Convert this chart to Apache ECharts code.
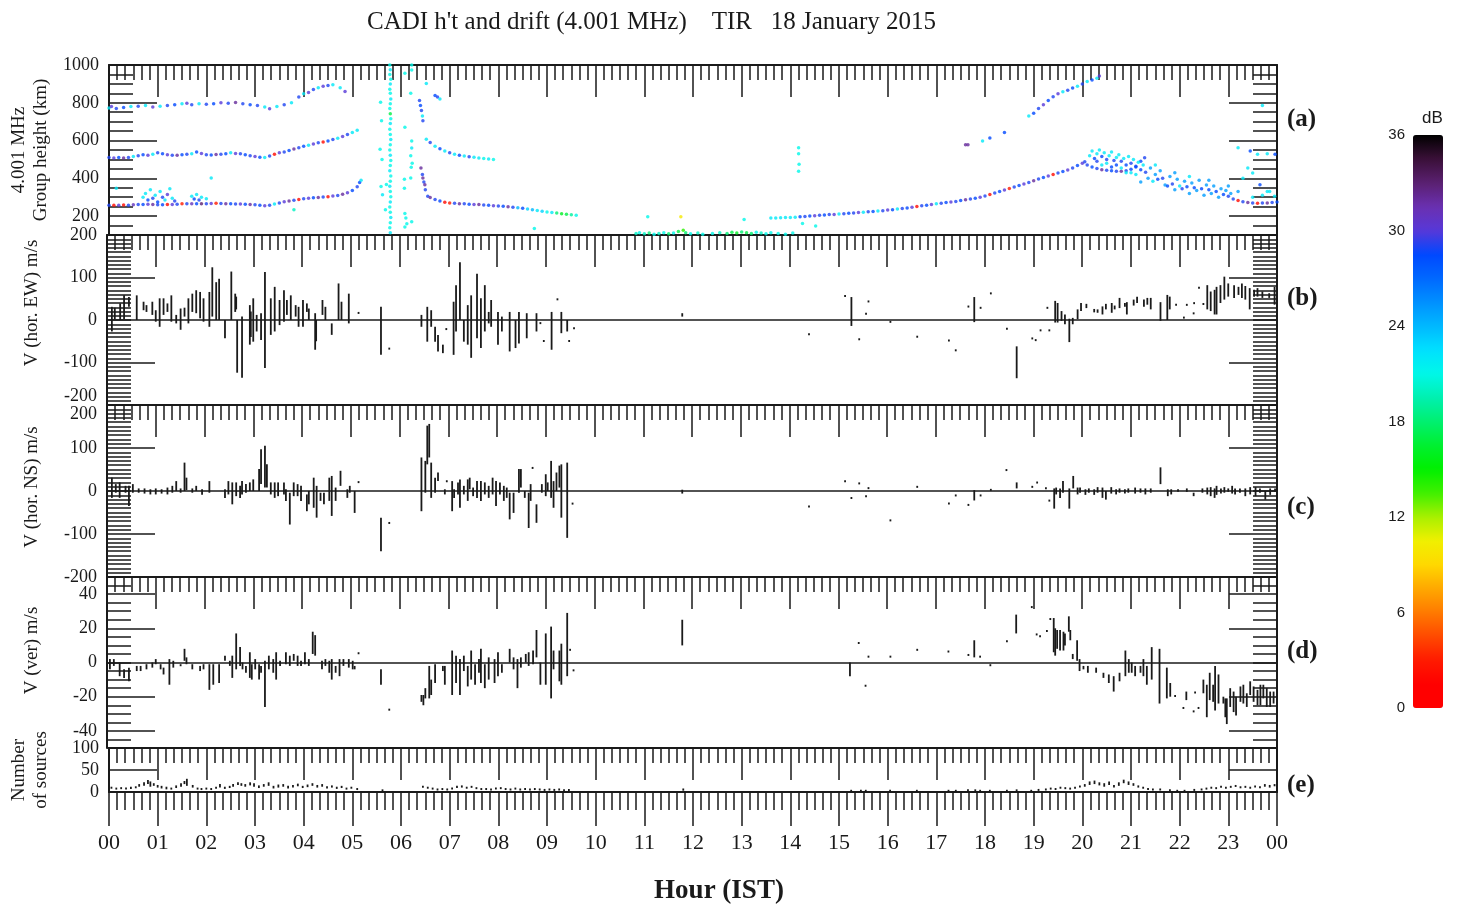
<!DOCTYPE html>
<html>
<head>
<meta charset="utf-8">
<title>CADI h't and drift</title>
<script src="https://cdn.jsdelivr.net/npm/echarts@6.0.0/dist/echarts.min.js"></script>
<style>
  html, body { margin: 0; padding: 0; background: #fff; }
  #chart { width: 1460px; height: 907px; }
</style>
</head>
<body>
<div id="chart"></div>
<script>
const SERIF = 'Liberation Serif'
const SANS = 'Liberation Sans'
const INK = '#1a1a1a'

const hourLabels = ['00', '01', '02', '03', '04', '05', '06', '07', '08', '09', '10', '11', '12',
  '13', '14', '15', '16', '17', '18', '19', '20', '21', '22', '23', '00']
const heightLabels = [200, 400, 600, 800, 1000]
const ewLabels = [-200, -100, 0, 100, 200]
const nsLabels = [-200, -100, 0, 100, 200]
const verLabels = [-40, -20, 0, 20, 40]
const sourceLabels = [0, 50, 100]

// (a) echoes: [hour, group height km, amplitude dB]
const lowTraceNight = [[0.0,258,29],[0.1,258,2],[0.2,258,30],[0.3,259,2],[0.4,258,29],[0.5,260,31],[0.6,262,29],[0.7,262,28.5],[0.8,263,30],[0.9,262,32],[1.0,260,29],[1.1,260,28.5],[1.2,261,2],[1.3,262,30],[1.4,263,29],[1.5,265,3],[1.6,266,29],[1.7,265,31],[1.8,265,28.5],[1.9,266,33],[2.0,266,29],[2.1,267,30],[2.2,268,3],[2.3,267,29],[2.4,266,32],[2.5,265,28.5],[2.6,264,29],[2.7,264,30],[2.8,263,28.5],[2.9,262,32],[3.0,260,29],[3.1,257,28.5],[3.2,255,30],[3.3,258,29],[3.4,264,22],[3.5,270,29],[3.6,276,30],[3.7,280,32],[3.8,284,29],[3.9,288,2],[4.0,292,29],[4.1,295,30],[4.2,297,28.5],[4.3,299,32],[4.4,301,29],[4.5,303,2],[4.6,306,30],[4.7,309,29],[4.8,316,32],[4.9,324,30],[5.0,336,28.5],[5.1,356,29],[5.15,378,28.5],[5.18,390,22]]
const midTraceNight = [[0.0,510,29],[0.1,508,30],[0.2,510,28.5],[0.3,508,32],[0.4,510,29],[0.5,515,22],[0.6,520,29],[0.7,525,28.5],[0.8,522,30],[0.9,528,22],[1.0,535,29],[1.1,530,28.5],[1.2,525,30],[1.3,522,29],[1.4,522,32],[1.5,525,28.5],[1.6,528,29],[1.7,530,22],[1.8,540,28.5],[1.9,532,30],[2.0,525,29],[2.1,524,28.5],[2.2,526,32],[2.3,528,29],[2.4,530,28.5],[2.5,535,22],[2.6,532,30],[2.7,530,29],[2.8,525,28.5],[2.9,520,29],[3.0,515,30],[3.1,512,28.5],[3.2,510,22],[3.3,518,29],[3.4,528,2],[3.5,535,30],[3.6,540,29],[3.7,548,28.5],[3.8,555,32],[3.9,562,29],[4.0,570,28.5],[4.1,575,22],[4.2,582,30],[4.3,588,29],[4.4,592,2],[4.5,598,28.5],[4.6,605,29],[4.7,612,22],[4.8,622,30],[4.9,632,29],[5.0,642,22],[5.1,655,22]]
const topTraceNight = [[0.0,772,22],[0.05,780,30],[0.15,770,29],[0.3,775,28.5],[0.45,780,22],[0.6,782,29],[0.75,785,22],[0.9,778,30],[1.05,782,22],[1.2,785,29],[1.35,790,28.5],[1.5,795,22],[1.6,798,30],[1.7,790,29],[1.85,795,22],[2.0,792,29],[2.15,795,28.5],[2.3,800,30],[2.45,798,29],[2.6,802,32],[2.75,795,29],[2.9,790,28.5],[3.05,785,29],[3.2,778,22],[3.3,768,30],[3.45,780,22],[3.6,790,29],[3.75,800,22],[3.9,830,29],[4.0,848,22],[4.1,855,30],[4.2,870,29],[4.3,880,22],[4.4,888,30],[4.5,892,29],[4.6,895,22],[4.75,880,22],[4.85,860,30]]
const scatterNight = [[0.15,347,22],[0.7,300,22],[0.75,320,22],[0.8,285,28.5],[0.85,340,22],[0.9,295,29],[0.95,310,22],[1.0,275,28.5],[1.05,330,22],[1.1,300,29],[1.15,285,22],[1.2,315,30],[1.25,345,22],[1.3,295,22],[1.35,280,29],[1.7,305,22],[1.75,290,28.5],[1.8,315,22],[1.85,285,29],[1.9,300,22],[2.0,292,22],[2.1,402,22],[3.8,234,20]]
const spreadF = [[5.77,1000,21],[5.78,975,22],[5.77,950,21],[5.79,925,21],[5.78,900,22],[5.77,872,21],[5.78,850,21],[5.79,820,22],[5.78,795,21],[5.77,770,21],[5.78,742,17],[5.79,715,21],[5.78,690,22],[5.77,660,21],[5.78,632,21],[5.79,605,22],[5.78,578,21],[5.77,550,21],[5.78,522,22],[5.79,495,21],[5.78,468,21],[5.77,440,22],[5.79,412,21],[5.78,385,21],[5.77,358,22],[5.78,330,21],[5.79,302,21],[5.78,275,22],[5.77,248,21],[5.78,220,21],[5.79,192,22],[5.78,165,21],[5.77,138,21],[5.78,112,22],[5.58,803,21],[5.6,705,21],[5.57,554,21],[5.61,500,21],[5.59,357,21],[5.62,313,22],[5.7,368,21],[5.68,234,21],[6.08,956,21],[6.22,1000,21],[6.22,973,21],[6.2,850,21],[6.08,670,21],[6.22,598,21],[6.22,560,22],[6.2,520,21],[6.23,480,21],[6.21,459,21],[6.07,395,21],[6.07,348,21],[6.2,402,21],[6.08,214,21],[6.1,190,21],[6.12,160,21],[6.08,143,21],[6.22,170,21]]
const steepTraceDawn = [[6.38,812,29],[6.4,785,28.5],[6.42,759,29],[6.44,730,22],[6.45,705,29],[6.41,455,32],[6.44,420,29],[6.45,402,32],[6.47,380,29],[6.49,366,32],[6.5,340,29],[6.52,902,22],[6.7,838,28.5],[6.75,830,29],[6.8,820,22]]
const lowTraceMorning = [[6.55,305,29],[6.6,298,32],[6.7,288,29],[6.8,280,28.5],[6.9,274,2],[7.0,270,3],[7.1,268,29],[7.2,266,32],[7.3,265,29],[7.4,263,28.5],[7.5,262,30],[7.6,261,32],[7.7,259,29],[7.8,257,28.5],[7.9,255,30],[8.0,254,29],[8.1,252,28.5],[8.2,250,32],[8.3,247,29],[8.4,244,24],[8.5,241,28.5],[8.6,238,23],[8.7,234,24],[8.8,230,22],[8.9,226,23],[9.0,222,21],[9.1,219,22],[9.2,216,18],[9.3,213,16],[9.4,210,17],[9.5,207,19],[9.6,204,21]]
const midTraceMorning = [[6.52,607,22],[6.6,590,29],[6.7,570,22],[6.8,557,28.5],[6.9,545,22],[7.0,536,29],[7.1,528,22],[7.2,522,28.5],[7.3,518,22],[7.4,514,29],[7.5,511,22],[7.6,508,22],[7.7,505,21],[7.8,502,22],[7.9,500,21]]
const bottomDots = [[8.74,134,21],[10.83,108,20],[10.9,112,21],[11.0,106,20],[11.07,196,21],[11.1,110,18],[11.2,104,21],[11.3,108,20],[11.4,112,21],[11.5,106,18],[11.6,110,21],[11.7,118,17],[11.75,196,10],[11.8,125,14],[11.85,112,18],[11.95,106,21],[12.1,110,20],[12.2,104,21],[12.4,108,21],[12.55,112,20],[12.7,108,18],[12.8,114,17],[12.9,110,16],[13.0,116,18],[13.05,182,21],[13.1,112,17],[13.2,108,18],[13.3,114,21],[13.4,110,20],[13.5,106,21],[13.6,112,21],[13.75,108,21],[13.9,104,21],[14.05,110,21],[14.17,562,21],[14.17,530,21],[14.18,475,21],[14.17,437,21],[14.25,161,21],[14.52,148,21]]
const lowTraceEvening = [[13.6,190,22],[13.7,190,22],[13.8,191,22],[13.9,192,22],[14.0,193,22],[14.1,194,22],[14.2,196,28.5],[14.3,198,29],[14.4,200,28.5],[14.5,202,30],[14.6,204,29],[14.7,206,28.5],[14.8,208,29],[14.9,209,30],[15.0,211,22],[15.1,213,29],[15.2,215,28.5],[15.3,217,29],[15.4,219,30],[15.5,221,22],[15.6,223,29],[15.7,225,28.5],[15.8,227,22],[15.9,229,29],[16.0,232,30],[16.1,234,28.5],[16.2,237,22],[16.3,240,29],[16.4,243,28.5],[16.5,247,30],[16.6,251,2],[16.7,255,29],[16.8,258,28.5],[16.9,262,30],[17.0,265,22],[17.1,268,29],[17.2,272,28.5],[17.3,275,30],[17.4,278,29],[17.5,282,28.5],[17.6,286,32],[17.7,290,29],[17.8,295,28.5],[17.9,300,30],[18.0,307,29],[18.1,314,2],[18.2,322,29],[18.3,330,28.5],[18.4,338,30],[18.5,346,3],[18.6,354,29],[18.7,362,28.5],[18.8,370,30],[18.9,378,29],[19.0,387,32],[19.1,396,29],[19.2,404,28.5],[19.3,412,30],[19.4,420,2],[19.5,428,29],[19.6,436,28.5],[19.7,444,30],[19.8,455,29],[19.9,468,28.5],[20.0,480,30],[20.05,488,29]]
const upperTraceEvening = [[17.6,578,32],[17.65,578,32],[17.95,598,22],[18.1,614,28.5],[18.4,643,28.5],[18.9,730,22],[19.0,745,28.5],[19.1,770,29],[19.2,790,30],[19.3,812,28.5],[19.4,832,29],[19.5,848,30],[19.6,858,22],[19.7,866,29],[19.8,878,28.5],[19.9,888,22],[20.0,900,29],[20.1,912,22],[20.2,920,28.5],[20.3,930,22],[20.35,942,30]]
const blobEvening = [[20.1,470,29],[20.2,460,28.5],[20.3,452,29],[20.4,446,32],[20.5,443,29],[20.6,440,28.5],[20.7,438,29],[20.8,437,32],[20.9,440,29],[21.0,448,28.5],[21.1,464,29],[21.2,490,28.5],[21.28,509,29],[20.15,520,22],[20.2,545,22],[20.25,505,28.5],[20.3,530,22],[20.3,490,29],[20.35,550,22],[20.4,515,28.5],[20.4,470,22],[20.45,535,22],[20.5,500,29],[20.5,480,22],[20.55,520,22],[20.6,460,28.5],[20.6,540,22],[20.65,495,29],[20.7,510,22],[20.7,470,28.5],[20.75,525,22],[20.8,455,22],[20.8,490,29],[20.85,505,22],[20.9,470,28.5],[20.9,430,22],[20.95,515,22],[21.0,480,29],[21.0,430,22],[21.05,500,22],[21.1,460,28.5],[21.1,420,22],[21.15,485,22],[21.2,445,28.5],[21.25,470,22]]
const decayNight = [[21.2,380,25],[21.3,432,29],[21.35,400,25],[21.4,455,25],[21.45,385,22],[21.5,420,25],[21.5,470,22],[21.55,395,28.5],[21.6,440,25],[21.65,400,29],[21.7,365,25],[21.75,360,28.5],[21.8,410,25],[21.85,370,29],[21.9,340,25],[21.9,430,25],[21.95,395,25],[22.0,360,22],[22.05,345,29],[22.1,385,25],[22.15,355,28.5],[22.2,320,25],[22.2,410,22],[22.25,375,25],[22.3,350,28.5],[22.35,335,25],[22.4,390,25],[22.45,345,28.5],[22.5,310,25],[22.55,365,25],[22.6,340,28.5],[22.6,390,25],[22.65,320,25],[22.7,360,25],[22.75,330,28.5],[22.8,300,25],[22.85,345,25],[22.9,315,28.5],[22.95,335,25],[23.0,305,29],[23.0,360,25],[23.05,320,25],[23.1,290,29],[23.2,282,2],[23.2,330,25],[23.3,276,29],[23.3,400,22],[23.4,272,32],[23.5,270,29],[23.6,268,2],[23.7,270,29],[23.8,270,32],[23.9,272,29],[24.0,275,28.5],[23.5,300,22],[23.7,310,22],[23.85,330,22],[23.95,305,22],[23.2,562,22],[23.45,545,28.5],[23.6,527,22],[23.8,530,22],[23.96,527,28.5],[23.4,455,22],[23.5,428,22],[23.65,366,28.5],[23.8,330,22],[23.7,786,22]]

// (b)-(e) drift estimates: [hour, low, high]
const ewDrift = [[0.10,-27,31],[0.16,2,29],[0.27,0,39],[0.35,2,58],[0.45,31,54],[0.61,0,58],[0.75,23,43],[0.81,19,35],[0.93,12,43],[1.00,-4,23],[1.08,-16,51],[1.16,12,51],[1.24,19,39],[1.32,-4,58],[1.42,-8,12],[1.51,-23,27],[1.59,8,29],[1.67,-8,51],[1.75,19,62],[1.83,16,70],[1.91,4,66],[1.98,-4,51],[2.10,-16,66],[2.16,8,124],[2.24,0,89],[2.30,0,97],[2.42,-43,0],[2.55,0,114],[2.63,19,62],[2.65,25,55],[2.67,-124,0],[2.77,-136,8],[2.93,-58,35],[2.95,-40,20],[3.00,-51,51],[3.07,-27,12],[3.16,-47,16],[3.24,-113,113],[3.36,-35,51],[3.44,-27,78],[3.54,-12,47],[3.63,-4,70],[3.69,12,47],[3.77,0,58],[3.87,8,35],[3.93,-16,31],[4.02,-16,47],[4.10,19,39],[4.14,0,27],[4.27,-70,16],[4.29,-50,0],[4.42,12,47],[4.48,0,31],[4.61,-35,-8],[4.75,0,86],[4.81,0,43],[4.96,-8,62],[5.16,19,19],[5.62,-82,31],[5.79,-65,-65],[6.45,-16,12],[6.57,-51,31],[6.65,-16,23],[6.73,-51,-16],[6.79,-74,-35],[6.89,-78,-58],[6.96,-19,-19],[7.11,-82,43],[7.16,-27,82],[7.24,0,136],[7.32,-51,0],[7.40,-58,35],[7.47,-89,58],[7.59,-43,109],[7.67,-66,51],[7.75,-27,82],[7.83,-8,19],[7.88,-16,47],[8.02,-58,19],[8.10,-27,8],[8.26,-74,19],[8.38,-66,0],[8.45,-55,19],[8.61,-43,16],[8.81,-27,16],[8.89,-5,-5],[8.96,-47,-47],[9.12,-70,19],[9.24,51,51],[9.32,-31,19],[9.44,-27,0],[9.48,-47,-47],[9.58,-17,-17],[11.80,8,16],[14.40,-31,-31],[15.14,59,59],[15.27,-14,54],[15.43,-43,-43],[15.57,17,17],[15.62,46,46],[16.07,-2,-2],[16.62,-37,-37],[17.27,-46,-46],[17.41,-69,-69],[17.67,34,34],[17.79,-5,54],[17.92,31,31],[18.13,65,65],[18.46,-18,-18],[18.66,-137,-62],[18.98,-41,-41],[19.05,-45,-45],[19.15,-22,-22],[19.29,31,31],[19.33,-22,-22],[19.45,-6,45],[19.50,-6,40],[19.58,-2,21],[19.65,-10,13],[19.74,-52,3],[19.81,-10,5],[19.91,2,25],[19.98,21,40],[20.09,28,38],[20.25,18,26],[20.32,17,25],[20.42,13,32],[20.49,25,38],[20.61,17,40],[20.67,25,34],[20.77,28,52],[20.88,31,40],[20.92,13,42],[21.06,34,48],[21.13,40,55],[21.27,31,48],[21.34,36,52],[21.41,25,52],[21.61,-2,42],[21.75,0,59],[21.80,25,55],[21.93,38,38],[22.09,8,8],[22.15,38,38],[22.29,18,18],[22.30,42,42],[22.40,78,78],[22.49,40,40],[22.57,25,82],[22.64,21,67],[22.72,13,71],[22.76,13,78],[22.84,40,82],[22.92,48,102],[23.00,55,86],[23.12,52,82],[23.21,59,78],[23.28,52,86],[23.35,48,80],[23.44,25,75],[23.53,55,71],[23.60,55,75],[23.70,52,67],[23.84,52,63],[23.95,36,78]]
const nsDrift = [[0.10,-16,31],[0.18,-4,16],[0.26,-16,20],[0.38,-4,12],[0.45,-35,12],[0.53,-4,16],[0.65,-4,6],[0.77,-6,6],[0.89,-8,4],[1.00,-8,6],[1.12,-6,4],[1.24,-8,8],[1.34,-4,12],[1.42,0,23],[1.51,-4,6],[1.59,0,66],[1.63,2,31],[1.75,-4,6],[1.83,0,12],[1.95,-9,4],[2.10,-4,23],[2.42,-16,4],[2.49,-8,23],[2.57,-31,20],[2.65,-12,20],[2.73,-16,12],[2.77,-8,23],[2.85,-4,16],[2.93,0,20],[3.00,0,27],[3.12,0,51],[3.16,16,97],[3.24,8,105],[3.28,8,62],[3.36,-8,20],[3.44,-16,20],[3.51,-12,20],[3.63,-8,20],[3.67,-23,4],[3.75,-78,-4],[3.83,-12,20],[3.91,-12,16],[3.98,-23,12],[4.10,-47,-8],[4.14,-31,0],[4.24,-39,31],[4.30,-62,12],[4.38,-23,-4],[4.45,-31,-4],[4.56,-23,31],[4.61,-58,35],[4.69,-23,8],[4.79,12,47],[4.93,-16,4],[4.98,-4,12],[5.08,-51,0],[5.16,23,23],[5.62,-140,-62],[5.79,-72,-72],[6.45,-47,78],[6.53,-4,70],[6.57,62,152],[6.61,78,156],[6.65,-16,66],[6.73,-4,31],[6.79,23,43],[6.93,-8,4],[6.97,25,25],[7.08,-47,23],[7.12,-16,4],[7.20,-8,20],[7.24,-39,27],[7.32,-8,12],[7.40,-23,27],[7.44,4,31],[7.51,-12,8],[7.59,-16,23],[7.67,-23,23],[7.75,-8,20],[7.83,-16,12],[7.91,-8,31],[7.98,-35,23],[8.06,-8,20],[8.14,-23,12],[8.20,-16,8],[8.26,-66,-4],[8.34,-51,-4],[8.45,-4,51],[8.49,8,51],[8.57,-16,0],[8.65,-86,-4],[8.69,-23,16],[8.73,56,56],[8.81,-74,-31],[8.92,-4,16],[9.00,-12,39],[9.04,0,20],[9.11,-16,70],[9.16,-39,23],[9.22,0,43],[9.28,8,59],[9.32,-62,62],[9.44,-109,66],[9.55,-27,-27],[11.80,-6,3],[14.40,-34,-34],[15.14,25,25],[15.27,-14,-14],[15.43,20,20],[15.57,-10,-10],[15.62,9,9],[16.07,-66,-66],[16.62,12,12],[17.27,-27,-27],[17.41,-8,-8],[17.67,-30,-30],[17.79,-22,2],[17.92,-8,-8],[18.13,5,5],[18.45,51,51],[18.66,6,20],[18.98,12,12],[19.08,22,22],[19.26,9,9],[19.33,-20,-20],[19.43,-41,6],[19.47,-8,8],[19.55,-16,6],[19.61,-4,23],[19.74,-41,6],[19.82,6,35],[19.91,-8,8],[19.96,-4,8],[20.07,-9,4],[20.14,-4,6],[20.25,-9,4],[20.32,-4,9],[20.42,-16,8],[20.49,-20,0],[20.60,-6,9],[20.70,-8,4],[20.77,-4,6],[20.88,-6,4],[20.95,-4,6],[21.09,-6,8],[21.20,-4,6],[21.30,-8,6],[21.41,-4,6],[21.61,16,55],[21.76,-12,4],[21.83,-8,4],[21.97,-2,4],[22.15,-2,6],[22.29,-12,-4],[22.47,-4,6],[22.57,-8,8],[22.64,-12,9],[22.72,-16,6],[22.76,-9,12],[22.85,-6,6],[22.92,-4,9],[23.00,-2,6],[23.08,-6,12],[23.14,-8,6],[23.24,-4,6],[23.35,-12,6],[23.45,-8,9],[23.56,-12,9],[23.65,-4,6],[23.76,-20,0],[23.86,-9,6],[23.96,-2,6]]
const verDrift = [[0.06,-4,2],[0.14,-2,2],[0.26,-8,0],[0.35,-9,-4],[0.45,-11,-3],[0.61,-5,-2],[0.69,-5,-2],[0.81,-4,-1],[0.93,-3,0],[1.00,-1,2],[1.10,-4,-1],[1.16,-7,-3],[1.28,-13,2],[1.36,-3,1],[1.51,-2,-1],[1.59,1,8],[1.63,-1,3],[1.75,-4,-1],[1.91,-5,-2],[1.98,-4,-1],[2.10,-16,-1],[2.18,-13,-1],[2.30,-12,-1],[2.42,1,4],[2.52,-2,1],[2.57,-9,4],[2.65,-4,17],[2.73,-2,9],[2.78,-4,0],[2.85,-6,-2],[2.93,-9,6],[2.97,-10,-1],[3.04,-4,2],[3.12,-10,-1],[3.16,-6,-2],[3.24,-26,1],[3.32,-4,4],[3.41,-6,2],[3.47,-10,6],[3.55,-2,1],[3.67,-1,6],[3.75,-2,4],[3.83,1,5],[3.91,-2,4],[3.98,-2,1],[4.06,-1,6],[4.14,-2,2],[4.22,5,18],[4.27,4,16],[4.41,-4,1],[4.48,-2,2],[4.56,-6,1],[4.61,-10,2],[4.69,-6,-2],[4.77,-8,2],[4.85,-2,2],[4.96,-3,2],[5.04,-4,1],[5.08,-4,-2],[5.16,6,6],[5.62,-13,-4],[5.79,-27,-27],[6.45,-23,-19],[6.49,-25,-19],[6.53,-21,-15],[6.61,-21,-2],[6.65,-19,-10],[6.73,-12,-1],[6.89,-5,-2],[6.93,-13,-2],[7.08,-19,7],[7.16,-12,4],[7.24,-19,2],[7.32,-5,4],[7.40,-14,-2],[7.47,-10,7],[7.55,-13,-1],[7.63,-6,2],[7.67,-12,8],[7.75,-15,-1],[7.83,-10,3],[7.95,-12,2],[8.02,-8,6],[8.10,-6,-1],[8.26,0,8],[8.34,-4,3],[8.42,-15,2],[8.49,-3,3],[8.59,0,5],[8.65,-2,6],[8.74,-1,7],[8.81,3,19],[8.89,-13,0],[9.00,-13,17],[9.11,-21,21],[9.16,-4,7],[9.28,-11,7],[9.32,-13,11],[9.44,-8,29],[9.50,8,8],[9.57,-4,-4],[11.80,10,25],[15.24,-8,0],[15.42,12,12],[15.56,-13,-13],[15.62,4,4],[16.07,4,4],[16.62,8,8],[17.26,7,7],[17.67,5,5],[17.79,3,13],[17.91,4,4],[18.12,-1,-1],[18.46,13,13],[18.65,17,28],[18.97,33,33],[19.07,17,17],[19.14,16,16],[19.28,19,19],[19.35,26,26],[19.42,6,26],[19.45,4,20],[19.49,8,19],[19.55,7,19],[19.62,7,18],[19.65,10,17],[19.73,18,27],[19.76,13,19],[19.81,2,5],[19.90,1,13],[19.95,-5,2],[20.03,-4,-2],[20.12,-6,-2],[20.29,-6,-3],[20.44,-9,-6],[20.55,-12,-7],[20.65,-17,-8],[20.77,-11,-6],[20.89,-8,7],[20.96,-6,2],[21.02,-6,0],[21.09,-8,-2],[21.20,-6,-2],[21.26,-8,2],[21.33,-13,-2],[21.43,-10,9],[21.59,-24,8],[21.74,-21,-3],[21.81,-20,-12],[21.91,-19,-19],[22.08,-26,-26],[22.14,-22,-17],[22.29,-28,-28],[22.32,-17,-17],[22.39,-26,-26],[22.49,-18,-10],[22.56,-32,-13],[22.62,-22,-6],[22.69,-23,-13],[22.73,-28,-2],[22.80,-24,-7],[22.90,-24,-20],[22.94,-32,-21],[22.97,-36,-21],[23.04,-26,-15],[23.11,-29,-17],[23.16,-31,-20],[23.25,-23,-14],[23.31,-24,-13],[23.38,-26,-18],[23.45,-19,-11],[23.52,-23,-14],[23.60,-25,-16],[23.66,-25,-13],[23.72,-21,-13],[23.79,-26,-15],[23.86,-26,-17],[23.93,-24,-17]]
const sourceCount = [[0.05,8,12],[0.15,6,10],[0.25,8,11],[0.35,6,10],[0.45,7,12],[0.55,9,13],[0.62,12,18],[0.72,14,22],[0.8,18,27],[0.85,12,24],[0.92,14,20],[1.0,10,16],[1.08,8,14],[1.18,6,12],[1.28,7,10],[1.38,9,15],[1.48,12,20],[1.55,18,25],[1.6,14,30],[1.72,10,16],[1.82,6,10],[1.9,5,9],[2.0,6,10],[2.1,5,9],[2.2,8,12],[2.28,10,18],[2.38,7,12],[2.48,9,14],[2.55,12,18],[2.65,16,22],[2.72,14,20],[2.8,12,18],[2.9,15,22],[2.98,12,20],[3.08,9,15],[3.18,12,18],[3.28,14,22],[3.38,8,14],[3.48,10,17],[3.58,12,18],[3.68,8,14],[3.78,10,16],[3.88,13,19],[3.98,9,14],[4.08,11,17],[4.18,14,20],[4.28,10,16],[4.38,12,18],[4.48,8,13],[4.58,10,15],[4.68,7,12],[4.78,9,14],[4.88,6,10],[4.98,8,12],[5.1,5,9],[5.62,3,6],[6.45,10,14],[6.55,8,12],[6.65,6,10],[6.75,5,8],[6.85,6,9],[6.95,5,8],[7.05,7,10],[7.15,9,14],[7.25,10,15],[7.35,8,12],[7.45,10,14],[7.55,7,11],[7.65,5,9],[7.75,6,9],[7.85,5,8],[7.95,6,10],[8.05,8,11],[8.15,6,9],[8.25,5,8],[8.35,7,10],[8.45,5,8],[8.55,6,9],[8.65,5,8],[8.75,6,9],[8.85,5,8],[8.95,4,7],[9.05,5,8],[9.15,4,7],[9.25,5,8],[9.35,4,6],[9.45,4,7],[11.8,3,8],[15.25,3,5],[15.45,3,5],[15.55,3,5],[16.05,3,5],[16.6,3,5],[17.25,3,5],[17.4,3,5],[17.65,3,6],[17.8,3,6],[17.9,3,5],[18.1,3,5],[18.45,3,5],[18.65,3,6],[18.95,3,5],[19.1,4,7],[19.25,5,8],[19.35,6,10],[19.45,5,9],[19.55,8,12],[19.65,7,11],[19.75,6,10],[19.85,8,12],[19.95,10,15],[20.05,12,18],[20.15,16,24],[20.25,18,26],[20.35,15,22],[20.45,12,20],[20.55,16,24],[20.65,10,16],[20.75,14,22],[20.85,20,28],[20.95,16,24],[21.05,14,20],[21.15,10,15],[21.25,8,12],[21.35,6,9],[21.45,5,8],[21.6,5,8],[21.8,3,6],[21.95,3,5],[22.1,3,5],[22.3,4,7],[22.45,5,8],[22.55,6,10],[22.65,8,12],[22.75,8,11],[22.85,10,14],[22.95,8,12],[23.05,10,14],[23.15,12,16],[23.25,9,13],[23.35,10,14],[23.45,8,12],[23.55,11,15],[23.65,9,13],[23.75,12,18],[23.85,10,16],[23.95,13,18]]

const echoes = [].concat(lowTraceNight, midTraceNight, topTraceNight, scatterNight, spreadF,
  steepTraceDawn, lowTraceMorning, midTraceMorning, bottomDots, lowTraceEvening,
  upperTraceEvening, blobEvening, decayNight)

const dbColors = ['#ff0000', '#ff0000', '#ff1a00', '#ff4a00', '#ff7a00', '#ffa800', '#ffd800',
  '#f0f000', '#a8f000', '#40f000', '#00f000', '#00f030', '#00f070', '#00f0b0', '#00f8e8',
  '#00e0ff', '#00b8ff', '#0090ff', '#0068ff', '#0048ff', '#5838d8', '#6a30b0', '#5a2070',
  '#3a1038', '#000000']

const panels = [
  { top: 65, height: 170, min: 100, max: 1000, labels: heightLabels, longTicks: [200, 400, 600, 800], minor: 50,
    name: '4.001 MHz\nGroup height (km)', gap: 57, pad: [0, 0, 0, 0] },
  { top: 235, height: 170, min: -200, max: 200, labels: ewLabels, longTicks: [-100, 100], minor: 10,
    name: 'V (hor. EW) m/s', gap: 64, pad: [0, 0, 0, 34], minAlign: 'bottom' },
  { top: 405, height: 172, min: -200, max: 200, labels: nsLabels, longTicks: [-100, 100], minor: 10,
    name: 'V (hor. NS) m/s', gap: 64, pad: [0, 0, 0, 8], maxAlign: 'top' },
  { top: 577, height: 171, min: -50, max: 50, labels: verLabels, longTicks: [-40, -20, 20, 40], minor: 5,
    name: 'V (ver) m/s', gap: 64, pad: [0, 0, 0, 24] },
  { top: 748, height: 44, min: 0, max: 100, labels: sourceLabels, longTicks: [50], minor: 50, noMinor: true,
    name: 'Number\nof sources', gap: 57, pad: [0, 0, 0, 0] }
]

const lineStyle = { color: INK, width: 2 }
const tickStyle = { color: INK, width: 1.5 }

function panelYAxes(p, i) {
  const base = { type: 'value', gridIndex: i, min: p.min, max: p.max, splitLine: { show: false } }
  const minorAxis = side => ({
    ...base, position: side, interval: p.minor,
    axisLine: { show: false, onZero: false },
    axisTick: { show: !p.noMinor, inside: true, length: 24, lineStyle: tickStyle },
    axisLabel: { show: false }
  })
  return [
    { ...base, position: 'left', name: p.name, nameLocation: 'middle', nameRotate: 90, nameGap: p.gap,
      nameTextStyle: { fontFamily: SERIF, fontSize: 19, color: INK, lineHeight: 22, padding: p.pad },
      axisLine: { show: true, onZero: false, lineStyle },
      axisTick: { show: true, inside: true, length: 48, customValues: p.longTicks, lineStyle: tickStyle },
      axisLabel: { customValues: p.labels, formatter: v => String(v), hideOverlap: false,
        showMinLabel: true, showMaxLabel: true,
        fontFamily: SERIF, fontSize: 18, color: INK, margin: 10,
        verticalAlignMinLabel: p.minAlign, verticalAlignMaxLabel: p.maxAlign } },
    minorAxis('left'),
    { ...base, position: 'right',
      axisLine: { show: true, onZero: false, lineStyle },
      axisTick: { show: true, inside: true, length: 48, customValues: p.longTicks, lineStyle: tickStyle },
      axisLabel: { show: false } },
    minorAxis('right')
  ]
}

function topXAxis(i) {
  return {
    type: 'value', gridIndex: i, min: 0, max: 24, interval: 1, position: 'top',
    axisLine: { show: true, onZero: false, lineStyle },
    axisTick: { inside: true, length: 32, lineStyle: tickStyle },
    minorTick: { show: true, splitNumber: 6, length: 15, lineStyle: tickStyle },
    axisLabel: { show: false },
    splitLine: { show: false }
  }
}

function drawSegment(params, api) {
  const top = api.coord([api.value(0), api.value(2)])
  const bottom = api.coord([api.value(0), api.value(1)])
  return {
    type: 'line',
    shape: { x1: top[0], y1: top[1], x2: top[0], y2: Math.max(bottom[1], top[1] + 2) },
    style: { stroke: INK, lineWidth: 1.8 }
  }
}

const zeroLine = {
  silent: true, symbol: 'none', label: { show: false },
  lineStyle: { color: INK, width: 1.5, type: 'solid' },
  data: [{ yAxis: 0 }]
}

function driftSeries(data, i, withZero) {
  return {
    type: 'custom', xAxisIndex: i, yAxisIndex: i * 4, data, clip: true,
    encode: { x: 0, y: [1, 2] },
    renderItem: drawSegment,
    markLine: withZero ? zeroLine : undefined
  }
}

const yAxes = []
panels.forEach((p, i) => yAxes.push(...panelYAxes(p, i)))
yAxes.push({
  type: 'value', gridIndex: 5, min: 0, max: 36, interval: 6, position: 'left',
  axisLine: { show: false }, axisTick: { show: false }, splitLine: { show: false },
  axisLabel: { fontFamily: SANS, fontSize: 15, color: INK, margin: 8 },
  name: 'dB', nameLocation: 'end', nameGap: 8,
  nameTextStyle: { fontFamily: SANS, fontSize: 17, color: INK, align: 'left', padding: [0, 0, 0, 9] }
})

const xAxes = panels.map((p, i) => topXAxis(i))
xAxes.push({
  type: 'value', gridIndex: 4, min: 0, max: 24, interval: 1, position: 'bottom',
  axisLine: { show: true, onZero: false, lineStyle },
  axisTick: { inside: false, length: 34, lineStyle: tickStyle },
  minorTick: { show: true, splitNumber: 6, length: 18, lineStyle: tickStyle },
  axisLabel: { formatter: v => hourLabels[v], fontFamily: SERIF, fontSize: 22, color: INK, margin: 40 },
  splitLine: { show: false },
  name: 'Hour (IST)', nameLocation: 'middle', nameGap: 86,
  nameTextStyle: { fontFamily: SERIF, fontSize: 27, fontWeight: 'bold', color: INK, padding: [0, 0, 0, 52] }
})
xAxes.push({ type: 'value', gridIndex: 5, show: false, min: 0, max: 1 })

const letterStyle = { fontFamily: SERIF, fontSize: 25, fontWeight: 'bold', color: INK }

const chart = echarts.init(document.getElementById('chart'))
chart.setOption({
  animation: false,
  backgroundColor: '#fff',
  title: [
    { text: "CADI h't and drift (4.001 MHz)    TIR   18 January 2015", left: 362, top: 5,
      textStyle: { fontFamily: SERIF, fontSize: 25, fontWeight: 'normal', color: INK } },
    { text: '(a)', left: 1282, top: 102, textStyle: letterStyle },
    { text: '(b)', left: 1282, top: 281, textStyle: letterStyle },
    { text: '(c)', left: 1282, top: 490, textStyle: letterStyle },
    { text: '(d)', left: 1282, top: 634, textStyle: letterStyle },
    { text: '(e)', left: 1282, top: 768, textStyle: letterStyle }
  ],
  grid: panels.map(p => ({ left: 107, width: 1170, top: p.top, height: p.height }))
    .concat([{ left: 1413, width: 30, top: 135, height: 573 }]),
  xAxis: xAxes,
  yAxis: yAxes,
  visualMap: {
    type: 'continuous', min: 0, max: 36, dimension: 2, seriesIndex: 0,
    left: 1413, top: 135, itemWidth: 30, itemHeight: 573, padding: 0,
    calculable: false, hoverLink: false, showLabel: false, text: null,
    inRange: { color: dbColors }
  },
  series: [
    { type: 'scatter', xAxisIndex: 0, yAxisIndex: 0, data: echoes, symbol: 'circle', symbolSize: 3.5, clip: true },
    driftSeries(ewDrift, 1, true),
    driftSeries(nsDrift, 2, true),
    driftSeries(verDrift, 3, true),
    driftSeries(sourceCount, 4, false)
  ]
})
</script>
</body>
</html>
